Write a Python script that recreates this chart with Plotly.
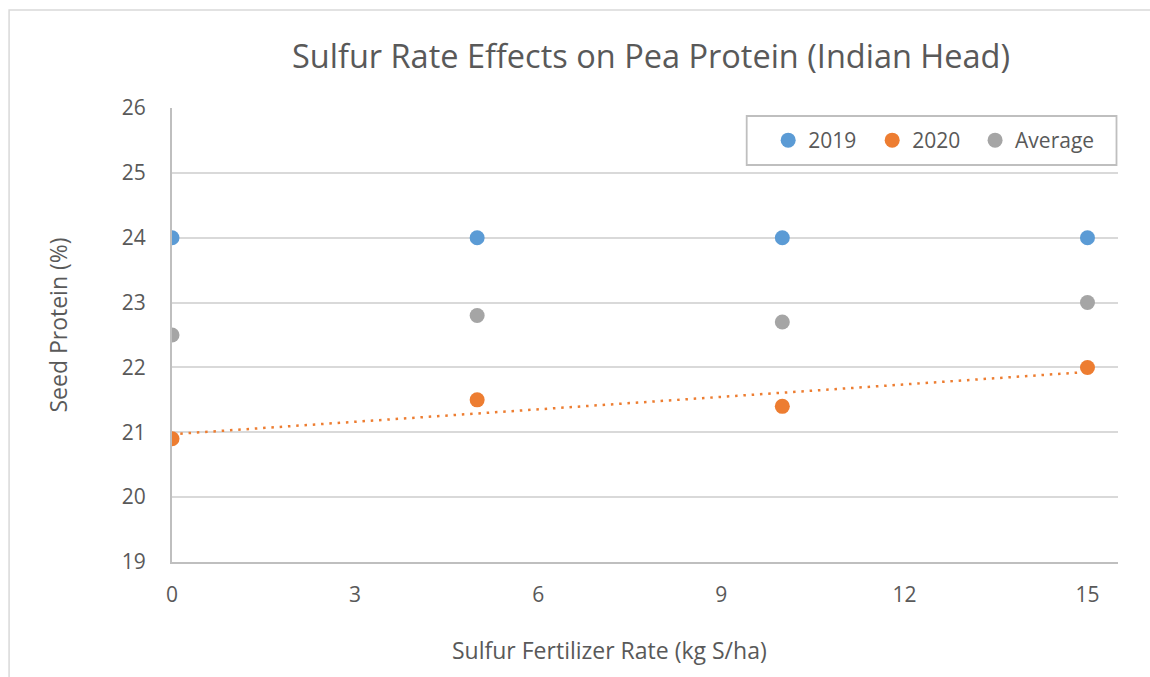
import numpy as np
import plotly.graph_objects as go

rates = [0, 5, 10, 15]
protein_2019 = [24.0, 24.0, 24.0, 24.0]
protein_2020 = [20.9, 21.5, 21.4, 22.0]
protein_avg = [22.5, 22.8, 22.7, 23.0]

x_ticks = [0, 3, 6, 9, 12, 15]
y_ticks = [19, 20, 21, 22, 23, 24, 25, 26]

FONT = "Open Sans"
TXT = "#595959"

W, H = 1150, 677
L, R, T, B = 171.5, 32, 108, 115
pw, ph = W - L - R, H - T - B

def px2x(px):
    return (px - L) / pw

def px2y(py):
    return 1 - (py - T) / ph

fig = go.Figure()

# linear trendline for 2020
slope, intercept = np.polyfit(rates, protein_2020, 1)
tx = [min(rates), max(rates)]
ty = [intercept + slope * v for v in tx]
fig.add_trace(go.Scatter(x=tx, y=ty, mode="lines", showlegend=False, hoverinfo="skip",
                         line=dict(color="#ED7D31", width=2.5, dash="2.5px,5.8px")))

for name, vals, col, lg in [("2019", protein_2019, "#5B9BD5", "legend"),
                            ("2020", protein_2020, "#ED7D31", "legend"),
                            ("Average", protein_avg, "#A5A5A5", "legend2")]:
    fig.add_trace(go.Scatter(x=rates, y=vals, mode="markers", name=name, legend=lg,
                             marker=dict(color=col, size=15, line=dict(width=0))))

leg_common = dict(orientation="h", xanchor="left", y=px2y(140.5), yanchor="middle",
                  borderwidth=0, bgcolor="rgba(0,0,0,0)",
                  font=dict(size=21, color=TXT, family=FONT), itemwidth=30)

fig.update_layout(
    width=W, height=H,
    margin=dict(l=L, r=R, t=T, b=B),
    paper_bgcolor="white", plot_bgcolor="white",
    font=dict(family=FONT, color=TXT),
    showlegend=True,
    legend=dict(x=px2x(768), entrywidth=59, **leg_common),
    legend2=dict(x=px2x(975), **leg_common),
    annotations=[
        dict(text="Sulfur Rate Effects on Pea Protein (Indian Head)", x=px2x(651), y=px2y(55),
             xref="paper", yref="paper", showarrow=False, xanchor="center", yanchor="middle",
             font=dict(size=32.5, color=TXT, family=FONT)),
        dict(text="Sulfur Fertilizer Rate (kg S/ha)", x=px2x(609.5), y=px2y(650),
             xref="paper", yref="paper", showarrow=False, xanchor="center", yanchor="middle",
             font=dict(size=23, color=TXT, family=FONT)),
        dict(text="Seed Protein (%)", x=px2x(57), y=px2y(325), textangle=-90,
             xref="paper", yref="paper", showarrow=False, xanchor="center", yanchor="middle",
             font=dict(size=23, color=TXT, family=FONT)),
    ],
    shapes=[
        dict(type="rect", xref="paper", yref="paper",
             x0=px2x(8.5), x1=px2x(1170), y0=px2y(10), y1=px2y(700),
             line=dict(color="#D9D9D9", width=1.5), fillcolor="rgba(0,0,0,0)", layer="below"),
        dict(type="rect", xref="paper", yref="paper",
             x0=px2x(746.5), x1=px2x(1116.5), y0=px2y(116), y1=px2y(165),
             line=dict(color="#BFBFBF", width=1.8), fillcolor="white", layer="above"),
    ],
)

fig.update_xaxes(range=[0, 15.5], tickvals=x_ticks, showgrid=False, zeroline=False,
                 showline=True, linecolor="#BFBFBF", linewidth=2,
                 ticks="", ticklabelstandoff=13, tickfont=dict(size=21, color=TXT, family=FONT))
fig.update_yaxes(range=[19, 26], tickvals=y_ticks, showgrid=True, gridcolor="#D9D9D9", gridwidth=1.5,
                 zeroline=False, showline=True, linecolor="#BFBFBF", linewidth=2,
                 ticks="", ticklabelstandoff=20, tickfont=dict(size=21, color=TXT, family=FONT))

fig.write_html("out.html", config={"displayModeBar": False},
               post_script="document.body.style.margin='0';")
